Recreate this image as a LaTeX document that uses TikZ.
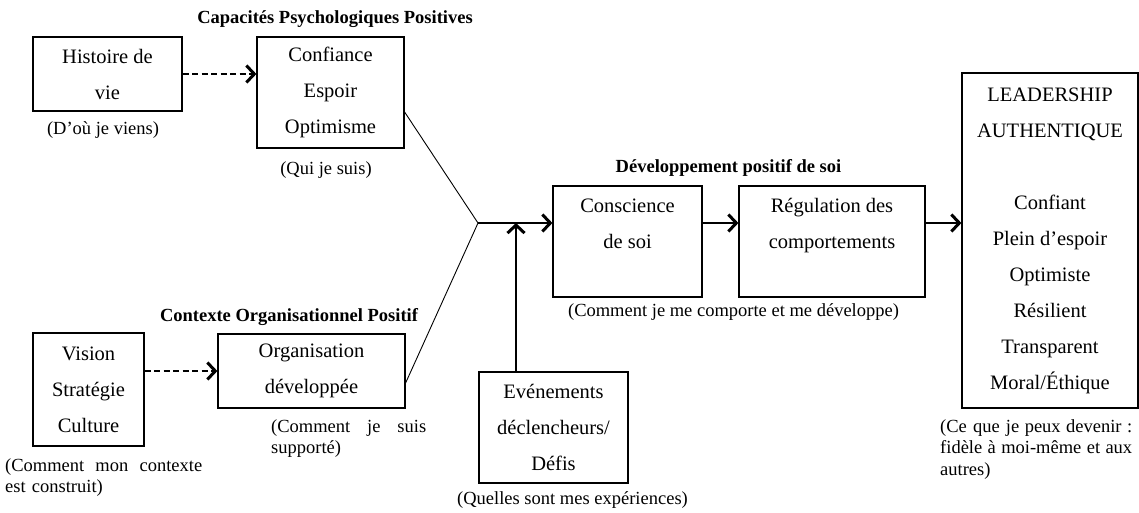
\documentclass[tikz,border=0pt]{standalone}
\usepackage{fontspec}
\setmainfont{Liberation Serif}
\usepackage{tikz}
\usetikzlibrary {arrows.meta}

\begin{document}
\begin{tikzpicture} [x = 1pt, y = -1pt]
        %style
        \tikzset{box/.style = {shape=rectangle, draw, line width=1.2pt, align=center, inner sep=0pt, font=\fontsize{20.5}{36}\selectfont}}
        \tikzset{note/.style = {inner sep=0pt, font=\fontsize{18.5}{21.5}\selectfont}}
        \tikzset{head/.style = {inner sep=0pt, font=\bfseries\fontsize{18.5}{21.5}\selectfont}}
        \tikzset{link/.style = {line width=2.2pt, -{Straight Barb[length=8pt, width=17pt, line width=3pt]}}}
        \tikzset{hint/.style = {link, dash pattern=on 6pt off 3.5pt}}
        \useasboundingbox (0,0) rectangle (1139,512);
        % boxes
        \node[box, minimum width=149, minimum height=74]  (hist)  at (107.5,74)   {Histoire de\\vie};
        \node[box, minimum width=147, minimum height=111] (conf)  at (330.5,92.5) {Confiance\\Espoir\\Optimisme};
        \node[box, minimum width=111, minimum height=113] (vis)   at (88.5,389.5) {Vision\\Stratégie\\Culture};
        \node[box, minimum width=187, minimum height=74]  (org)   at (311.5,371)  {Organisation\\développée};
        \node[box, minimum width=149, minimum height=111] (consc) at (627.5,241.5) {Conscience\\de soi\\\mbox{}};
        \node[box, minimum width=186, minimum height=111] (regul) at (832,241.5)  {Régulation des\\comportements\\\mbox{}};
        \node[box, minimum width=149, minimum height=111] (evt)   at (553.5,427.5) {Evénements\\déclencheurs/\\Défis};
        \node[box, minimum width=176, minimum height=335] (lead)  at (1050,240.5) {LEADERSHIP\\AUTHENTIQUE\\\mbox{}\\Confiant\\Plein d’espoir\\Optimiste\\Résilient\\Transparent\\Moral/Éthique};
        % headings
        \node[head] (capa) at (335,19)    {Capacités Psychologiques Positives};
        \node[head] (ctx)  at (289,317)   {Contexte Organisationnel Positif};
        \node[head] (dev)  at (728.5,168) {Développement positif de soi};
        % notes
        \node[note] (where) at (103,130)   {(D’où je viens)};
        \node[note] (who)   at (326,170)   {(Qui je suis)};
        \node[note] (how)   at (733.5,312) {(Comment je me comporte et me développe)};
        \node[note] (exp)   at (572.5,500) {(Quelles sont mes expériences)};
        \node[note, anchor=north west, text width=155, align=left] (supp) at (271,419)
            {(Comment\hfill je\hfill suis\\supporté)};
        \node[note, anchor=north west, text width=197, align=left] (built) at (5,458)
            {(Comment\hfill mon\hfill contexte\\est construit)};
        \node[note, anchor=north west, text width=192, align=left] (become) at (940,419)
            {(Ce que je\hfill peux\hfill devenir\hfill :\\fidèle\hfill à\hfill moi-même\hfill et\hfill aux\\autres)};
        % connectors
        \coordinate (hub)  at (478,223);
        \coordinate (meet) at (516,223);
        \draw [line width=0.9pt] ([yshift=-19.5pt]conf.east) -- (hub) -- ([yshift=-12pt]org.east);
        \draw [hint] (hist.east) -- (conf.west |- hist.east);
        \draw [hint] (vis.east |- org.west) -- (org.west);
        \draw [link] (hub) -- (consc.west |- hub);
        \draw [link] ([xshift=-37.5pt]evt.north) -- (meet);
        \draw [link] (consc.east |- hub) -- (regul.west |- hub);
        \draw [link] (regul.east |- hub) -- (lead.west |- hub);
\end{tikzpicture}
\end{document}
